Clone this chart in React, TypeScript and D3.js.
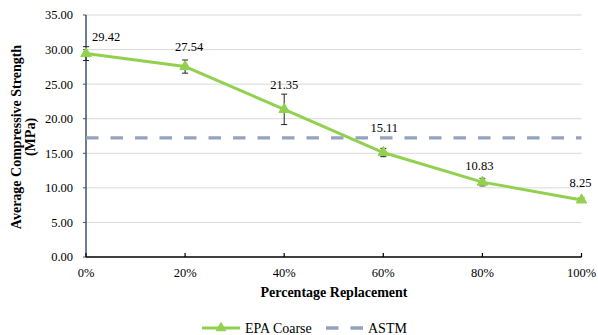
import React from "react";
import * as d3 from "d3";

// Compressive strength vs. replacement level
const categories = ["0%", "20%", "40%", "60%", "80%", "100%"];
const strength = [29.42, 27.54, 21.35, 15.11, 10.83, 8.25];
const strengthError = [1.0, 0.95, 2.2, 0.6, 0.55, 0.3];
const astmLimit = 17.24;
const yTicks = [0, 5, 10, 15, 20, 25, 30, 35];

// label placement relative to each point: [dx, dy, anchor]
const labelOffsets: [number, number, string][] = [
  [6, -13, "start"],
  [4, -16, "middle"],
  [0, -20, "middle"],
  [1, -21, "middle"],
  [-3, -12, "middle"],
  [-1, -13, "middle"],
];

const W = 598;
const H = 335;
const FONT = "Liberation Serif";
const GREEN = "#92D050";
const ASTM_COLOR = "#95A3BE";

export default function App() {
  const x = d3.scalePoint<string>().domain(categories).range([86, 581.5]);
  const y = d3.scaleLinear().domain([0, 35]).range([257, 15]);

  const pts = categories.map((c, i) => [x(c) as number, y(strength[i])] as [number, number]);
  const linePath = d3.line()(pts) as string;
  const tri = d3.symbol().type(d3.symbolTriangle).size(48)() as string;
  const triSmall = d3.symbol().type(d3.symbolTriangle).size(40)() as string;

  const x0 = x(categories[0]) as number;
  const x1 = x(categories[categories.length - 1]) as number;

  const txt = { fontFamily: FONT };

  return (
    <svg
      width={W}
      height={H}
      style={{ position: "absolute", left: 0, top: 0, background: "#fff" }}
    >
      {/* gridlines */}
      {yTicks.slice(1).map((t) => (
        <line key={t} x1={x0} x2={x1} y1={y(t)} y2={y(t)} stroke="#D9D9D9" strokeWidth={1} />
      ))}

      {/* y tick labels */}
      {yTicks.map((t) => (
        <text key={t} x={73} y={y(t)} dy="0.35em" textAnchor="end" fontSize={12.5} fill="#000" style={txt}>
          {t.toFixed(2)}
        </text>
      ))}

      {/* y axis */}
      <line x1={x0} x2={x0} y1={y(35)} y2={y(0)} stroke="#3F5270" strokeWidth={1.5} />
      {yTicks.map((t) => (
        <line key={t} x1={x0 - 3} x2={x0} y1={y(t)} y2={y(t)} stroke="#3F5270" strokeWidth={1} />
      ))}

      {/* ASTM reference line */}
      <line
        x1={x0}
        x2={x1}
        y1={y(astmLimit)}
        y2={y(astmLimit)}
        stroke={ASTM_COLOR}
        strokeWidth={3.3}
        strokeDasharray="12.5 12"
      />

      {/* x axis */}
      <line x1={x0} x2={x1} y1={y(0)} y2={y(0)} stroke="#000" strokeWidth={1.5} />
      {categories.map((c) => (
        <line key={c} x1={x(c)} x2={x(c)} y1={y(0) - 4} y2={y(0)} stroke="#000" strokeWidth={1.2} />
      ))}
      {categories.map((c) => (
        <text key={c} x={x(c)} y={276.5} textAnchor="middle" fontSize={12.5} fill="#000" style={txt}>
          {c}
        </text>
      ))}

      {/* error bars */}
      {categories.map((c, i) => {
        const cx = x(c) as number;
        const top = y(strength[i] + strengthError[i]);
        const bot = y(strength[i] - strengthError[i]);
        return (
          <g key={c} stroke="#222" strokeWidth={1}>
            <line x1={cx} x2={cx} y1={top} y2={bot} />
            <line x1={cx - 3} x2={cx + 3} y1={top} y2={top} />
            <line x1={cx - 3} x2={cx + 3} y1={bot} y2={bot} />
          </g>
        );
      })}

      {/* series line */}
      <path d={linePath} fill="none" stroke={GREEN} strokeWidth={3} strokeLinejoin="round" />
      {pts.map(([px, py], i) => (
        <path key={i} d={tri} transform={`translate(${px},${py})`} fill={GREEN} stroke={GREEN} />
      ))}

      {/* data labels */}
      {pts.map(([px, py], i) => (
        <text
          key={i}
          x={px + labelOffsets[i][0]}
          y={py + labelOffsets[i][1]}
          textAnchor={labelOffsets[i][2] as any}
          fontSize={12.5}
          fill="#000"
          style={txt}
        >
          {strength[i].toFixed(2)}
        </text>
      ))}

      {/* axis titles */}
      <text x={334} y={296.5} textAnchor="middle" fontSize={14} fontWeight="bold" fill="#000" style={txt}>
        Percentage Replacement
      </text>
      <g transform="translate(0,137) rotate(-90)">
        <text x={0} y={21} textAnchor="middle" fontSize={14} fontWeight="bold" fill="#000" style={txt}>
          Average Compressive Strength
        </text>
        <text x={0} y={35} textAnchor="middle" fontSize={14} fontWeight="bold" fill="#000" style={txt}>
          (MPa)
        </text>
      </g>

      {/* legend */}
      <g>
        <line x1={202} x2={240} y1={328} y2={328} stroke={GREEN} strokeWidth={3} />
        <path d={triSmall} transform="translate(221,328)" fill={GREEN} stroke={GREEN} />
        <text x={245} y={333} fontSize={14} fill="#000" style={txt}>EPA Coarse</text>
        <line
          x1={326}
          x2={363}
          y1={328}
          y2={328}
          stroke={ASTM_COLOR}
          strokeWidth={3.3}
          strokeDasharray="12.5 12"
        />
        <text x={368} y={333} fontSize={14} fill="#000" style={txt}>ASTM</text>
      </g>
    </svg>
  );
}
